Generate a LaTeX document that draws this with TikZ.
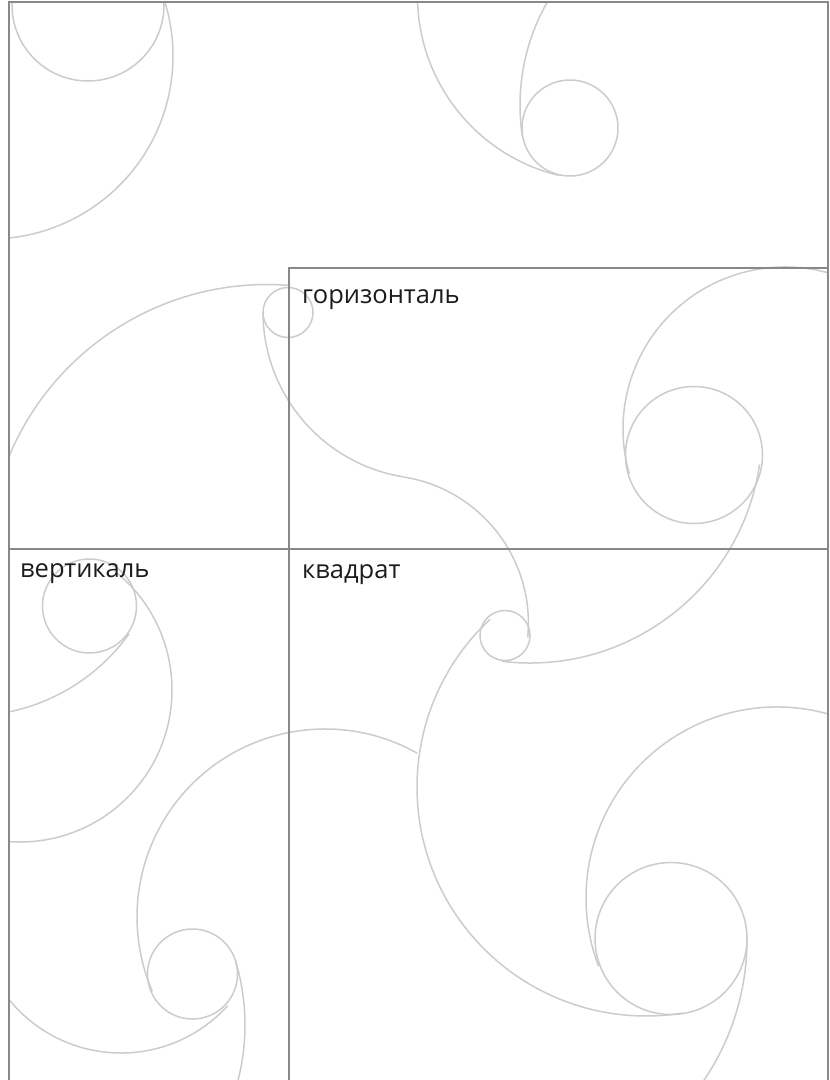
\documentclass[tikz,border=0pt]{standalone}
\usepackage{fontspec}
\setmainfont{Open Sans}
\definecolor{framec}{RGB}{136,136,136}
\definecolor{arcc}{RGB}{204,204,204}
\definecolor{txtc}{RGB}{28,28,28}
% arc in screen coordinates: centre x, centre y, radius, start angle, end angle (angles clockwise, y down)
\newcommand\sarc[5]{\draw[arcline] ({#1+#3*cos(#4)},{#2+#3*sin(#4)}) arc[start angle={-(#4)}, end angle={-(#5)}, radius=#3pt];}
\begin{document}
\begin{tikzpicture}[x=1pt,y=-1pt,
  arcline/.style={draw=arcc, line width=1.5pt},
  frameline/.style={draw=framec, line width=2pt, line join=miter},
  lbl/.style={anchor=base west, inner sep=0pt, font=\fontsize{25.5}{29}\selectfont, text=txtc}]
\useasboundingbox (0,0) rectangle (830,1080);
\fill[white] (0,0) rectangle (830,1080);

% named frame points
\coordinate (LB) at (9,1080);
\coordinate (LT) at (9,2);
\coordinate (RT) at (828,2);
\coordinate (RB) at (828,1080);
\coordinate (HL) at (289,267.5);
\coordinate (HR) at (828,267.5);
\coordinate (VB) at (289,1080);
\coordinate (ML) at (9,549);
\coordinate (MR) at (828,549);

\begin{scope}
\clip (LT) rectangle (RB);
% group A (top left)
\draw[arcline] (88,5) circle[radius=76pt];
\sarc{-10}{56}{183}{-40}{90}
% group B (top middle)
\draw[arcline] (570,128) circle[radius=48pt];
\sarc{728}{105}{208}{215}{171.7}
\sarc{602}{-4}{184.5}{182}{103.6}
% group C
\sarc{267}{564}{279.5}{195}{274.8}
\draw[arcline] (288,312.5) circle[radius=25pt];
\sarc{430}{312}{167}{180}{99.1}
\sarc{380.4}{623.1}{148}{279.1}{365.5}
% group D
\draw[arcline] (505,635.5) circle[radius=25pt];
\sarc{530}{431}{232}{96.9}{8.3}
\sarc{646}{787}{229}{227.1}{80.6}
% group E
\draw[arcline] (694,455) circle[radius=68.5pt];
\sarc{785}{429}{162}{-70}{-196}
% group F
\draw[arcline] (671,938.5) circle[radius=76pt];
\sarc{777}{898}{191}{-70}{-200.9}
\sarc{497}{940}{250}{-0.5}{40}
% group G (bottom left)
\draw[arcline] (89.5,606) circle[radius=47pt];
\sarc{-31}{519}{197}{90}{35.8}
\sarc{20}{690}{152}{-50.4}{100}
\draw[arcline] (192.5,974) circle[radius=45pt];
\sarc{325}{917}{188}{-60.7}{-203.3}
\sarc{121}{909}{144}{150}{42.3}
\sarc{23}{1025}{222}{-16.8}{20}
\end{scope}

% frame
\draw[frameline] (LB) -- (LT) -- (RT) -- (RB);
\draw[frameline] (VB) -- (HL) -- (HR);
\draw[frameline] (ML) -- (MR);

% labels
\node[lbl] (hor) at (302,303) {горизонталь};
\node[lbl] (kv) at (302,578) {квадрат};
\node[lbl] (ver) at (20,577) {вертикаль};
\end{tikzpicture}
\end{document}
